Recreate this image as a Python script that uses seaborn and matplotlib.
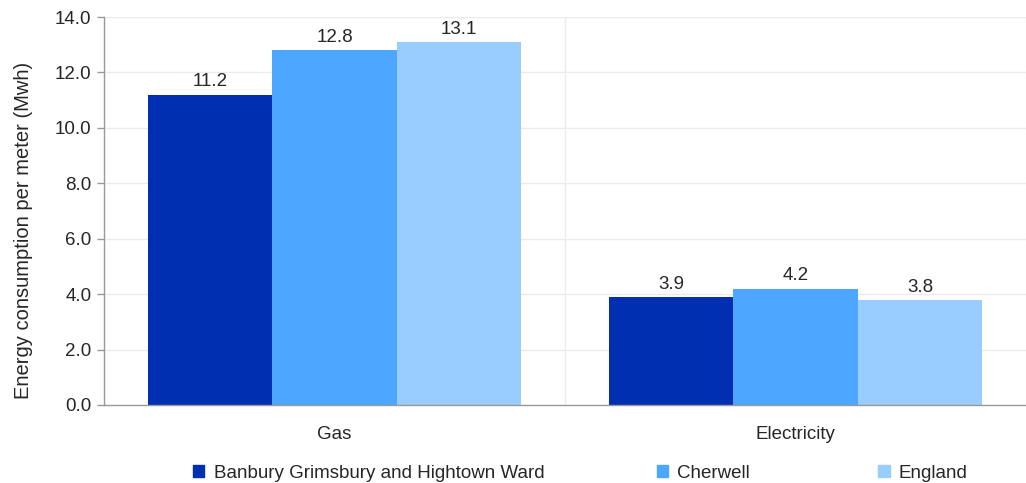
import pandas as pd
import matplotlib.pyplot as plt
import seaborn as sns

fuel_types = ['Gas', 'Electricity']
areas = ['Banbury Grimsbury and Hightown Ward', 'Cherwell', 'England']
gas_values = [11.2, 12.8, 13.1]
electricity_values = [3.9, 4.2, 3.8]
colors = ['#012FB2', '#4DA6FF', '#99CCFF']

rows = []
for area, g, e in zip(areas, gas_values, electricity_values):
    rows.append({'Type': 'Gas', 'Area': area, 'Value': g})
    rows.append({'Type': 'Electricity', 'Area': area, 'Value': e})
data = pd.DataFrame(rows)

sns.set_style('white')
plt.rcParams['font.family'] = ['Liberation Sans', 'DejaVu Sans']
fs = 13.5

fig = plt.figure(figsize=(10.26, 4.83), dpi=100)
ax = fig.add_axes([0.1014, 0.1615, 0.8986, 0.8033])

sns.barplot(data=data, x='Type', y='Value', hue='Area', order=fuel_types,
            hue_order=areas, palette=colors, saturation=1, width=0.81,
            linewidth=0, ax=ax, legend=False)

for c in ax.containers:
    ax.bar_label(c, fmt='%.1f', padding=3, fontsize=fs)

ax.set_xlim(-0.5, 1.5)
ax.set_ylim(0, 14)
ax.set_yticks([0, 2, 4, 6, 8, 10, 12, 14])
ax.set_yticklabels(['%.1f' % v for v in ax.get_yticks()], fontsize=fs)
ax.set_xticks([-0.5, 0.5, 1.5], minor=True)
ax.tick_params(axis='x', which='major', length=0, pad=15, labelsize=fs)
ax.tick_params(axis='x', which='minor', length=5, color='#999999', width=1)
ax.tick_params(axis='y', length=5, color='#999999', width=1, left=True, pad=4)
ax.grid(axis='y', color='#ebebeb', linewidth=1)
ax.grid(axis='x', which='minor', color='#ebebeb', linewidth=1)
ax.set_axisbelow(True)
for s in ['top', 'right']:
    ax.spines[s].set_visible(False)
for s in ['left', 'bottom']:
    ax.spines[s].set_color('#999999')
    ax.spines[s].set_linewidth(1)

ax.set_xlabel('')
ax.set_ylabel('Energy consumption per meter (Mwh)', fontsize=14.5)
ax.yaxis.set_label_coords(-0.077, 0.451)

# one legend per entry so each marker sits where the reference has it
legend_x = [0.188, 0.640, 0.856]
for area, col, lx in zip(areas, colors, legend_x):
    fig.legend([plt.Rectangle((0, 0), 1, 1, color=col)], [area],
               loc='center left', bbox_to_anchor=(lx, 0.0207),
               frameon=False, fontsize=fs, handlelength=0.6,
               handleheight=0.6, handletextpad=0.5,
               borderaxespad=0, borderpad=0)

fig.savefig('out.png', dpi=100)
